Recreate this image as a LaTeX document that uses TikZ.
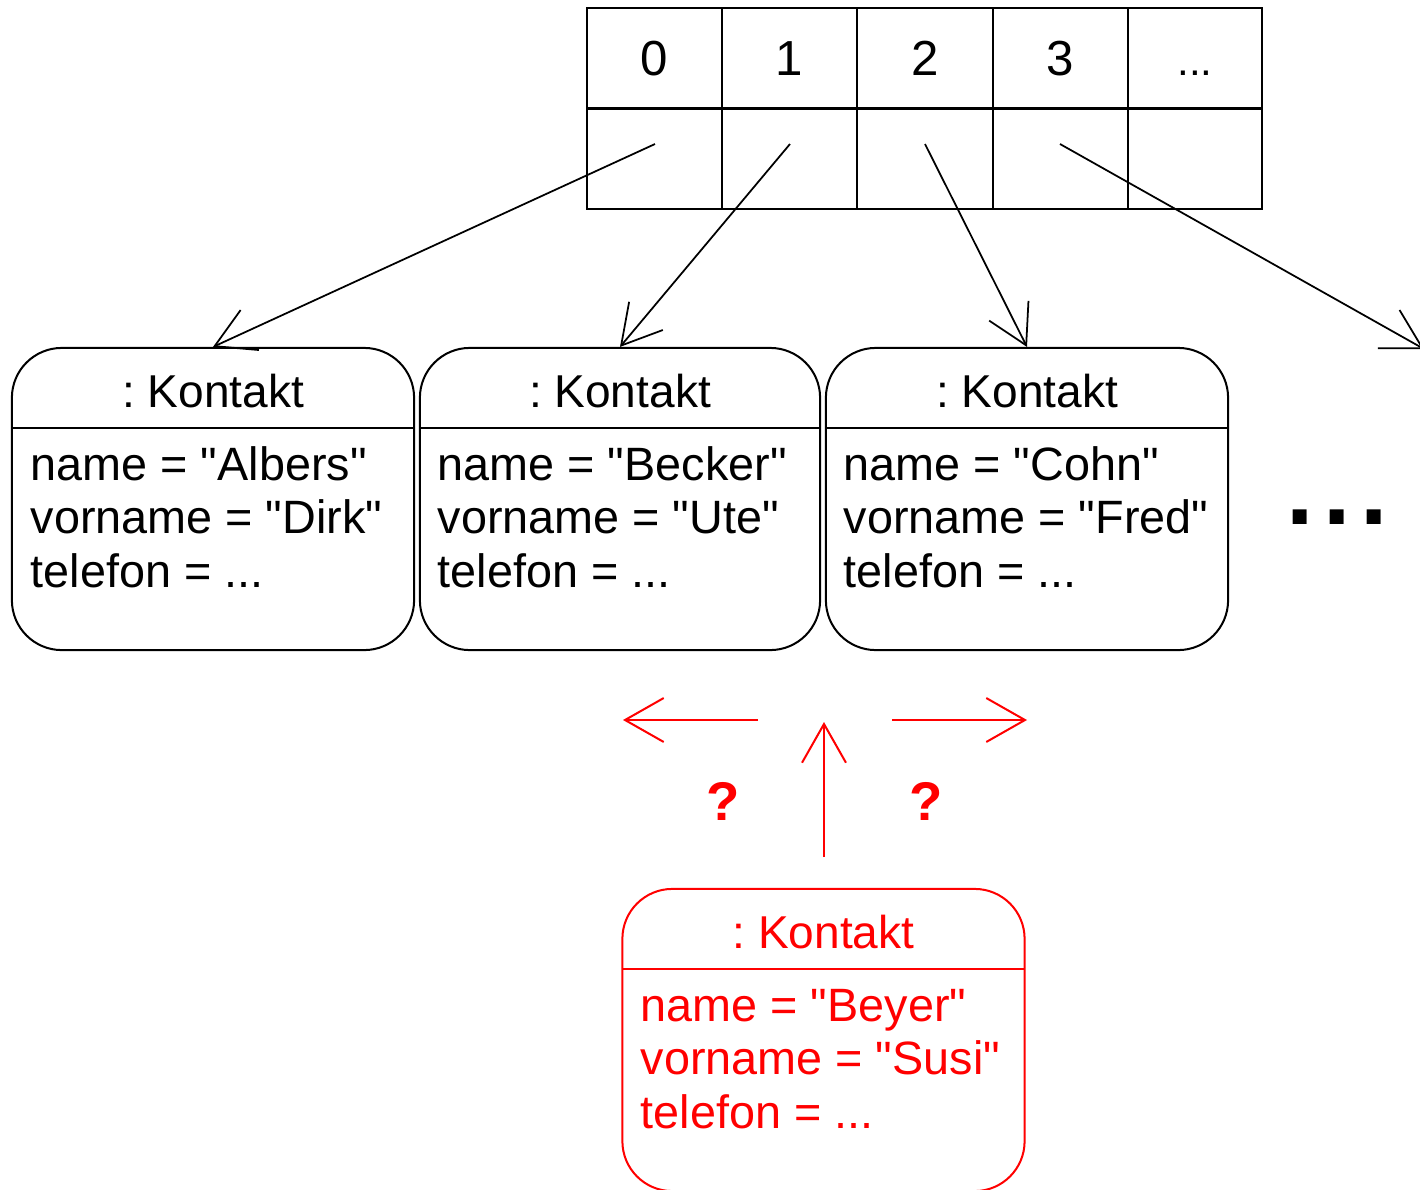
\documentclass[tikz,border=0pt]{standalone}
\usepackage{fontspec}
\setmainfont{Liberation Sans}[Ligatures=TeXOff]
\usetikzlibrary{arrows.meta}
\definecolor{hired}{RGB}{255,0,0}
\frenchspacing
\begin{document}
\begin{tikzpicture}[x=0.01cm,y=-0.01cm,
  cell/.style={minimum width=1.35cm, minimum height=1.0cm, inner sep=0pt, text height=0.72em, text depth=0pt, font=\fontsize{14pt}{16pt}\selectfont},
  obj/.style={draw, line width=0.57pt, rounded corners=14.2pt, minimum width=4.02cm, minimum height=3.02cm, inner sep=0pt},
  hdr/.style={anchor=base, inner sep=0pt, font=\fontsize{13.1pt}{15pt}\selectfont},
  attr/.style={anchor=base west, inner sep=0pt, font=\fontsize{13.3pt}{15pt}\selectfont},
  ptr/.style={line width=0.5pt, -{Straight Barb[length=11pt,width=12.5pt]}},
  redptr/.style={hired, line width=0.57pt, -{Straight Barb[length=11pt,width=12.5pt]}},
  qmark/.style={hired, anchor=base, inner sep=0pt, font=\bfseries\fontsize{15.5pt}{17pt}\selectfont}
]
\useasboundingbox (0,0) rectangle (1420,1190);
\clip (0,0) rectangle (1420,1190);

% array
\node[cell] (c0) at (654.5,63) {0};
\node[cell] (c1) at (789.5,63) {1};
\node[cell] (c2) at (925,63) {2};
\node[cell] (c3) at (1060.5,63) {3};
\node[cell, font=\fontsize{12pt}{14pt}\selectfont] (c4) at (1195,63) {...};
\node[cell] (d0) at (654.5,158.5) {};
\node[cell] (d1) at (789.5,158.5) {};
\node[cell] (d2) at (925,158.5) {};
\node[cell] (d3) at (1060.5,158.5) {};
\node[cell] (d4) at (1195,158.5) {};
\draw[line width=0.45pt] (587,8) rectangle (1262,209);
\draw[line width=0.85pt] (587,108) -- (1262,108);
\foreach \xx in {722,857,993,1128} \draw[line width=0.85pt] (\xx,8) -- (\xx,209);

% objects
\node[obj] (k1) at (213,499) {};
\node[obj, minimum width=4.0cm] (k2) at (620,499) {};
\node[obj] (k3) at (1027,499) {};
\node[obj, draw=hired] (kr) at (823.5,1040) {};
\draw[line width=0.57pt] (12,428) -- (414,428);
\draw[line width=0.57pt] (420,428) -- (820,428);
\draw[line width=0.57pt] (826,428) -- (1228,428);
\draw[hired, line width=0.57pt] (622,969) -- (1025,969);

\node[hdr] (h1) at (213,407) {: Kontakt};
\node[attr] (a1) at (30,480) {name = "Albers"};
\node[attr] (b1) at (30,533) {vorname = "Dirk"};
\node[attr] (t1) at (30,587) {telefon = ...};

\node[hdr] (h2) at (620,407) {: Kontakt};
\node[attr] (a2) at (437,480) {name = "Becker"};
\node[attr] (b2) at (437,533) {vorname = "Ute"};
\node[attr] (t2) at (437,587) {telefon = ...};

\node[hdr] (h3) at (1027,407) {: Kontakt};
\node[attr] (a3) at (843,480) {name = "Cohn"};
\node[attr] (b3) at (843,533) {vorname = "Fred"};
\node[attr] (t3) at (843,587) {telefon = ...};

\node[hdr, hired] (hr) at (823.5,948) {: Kontakt};
\node[attr, hired] (ar) at (640,1021) {name = "Beyer"};
\node[attr, hired] (br) at (640,1074) {vorname = "Susi"};
\node[attr, hired] (tr) at (640,1128) {telefon = ...};

\node[anchor=base, inner sep=0pt, font=\bfseries\fontsize{28pt}{30pt}\selectfont] (more) at (1337,524) {.\hspace{2.7pt}.\hspace{2.7pt}.};

% pointers
\coordinate (p0) at (655,144);
\coordinate (p1) at (790,144);
\coordinate (p2) at (925,144);
\coordinate (p3) at (1060,144);
\coordinate (q3) at (1424,349);
\draw[ptr] (p0) -- (k1.north);
\draw[ptr] (p1) -- (k2.north);
\draw[ptr] (p2) -- (k3.north);
\draw[ptr] (p3) -- (q3);

% red insertion arrows
\coordinate (ls) at (758,720);
\coordinate (le) at (623,720);
\coordinate (us) at (824,857);
\coordinate (ue) at (824,722);
\coordinate (rs) at (892,720);
\coordinate (re) at (1027,720);
\draw[redptr] (ls) -- (le);
\draw[redptr] (us) -- (ue);
\draw[redptr] (rs) -- (re);
\node[qmark] (q1) at (723,820) {?};
\node[qmark] (q2) at (926,820) {?};
\end{tikzpicture}
\end{document}
